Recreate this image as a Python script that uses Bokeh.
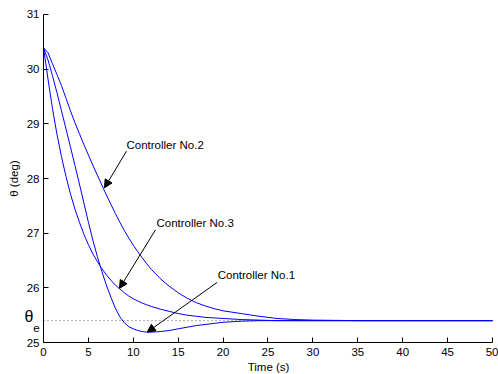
import math
from bokeh.plotting import figure
from bokeh.models import Range1d, Label, Arrow, NormalHead, FixedTicker
from bokeh.embed import file_html
from bokeh.resources import INLINE

# time samples (s)
t = [0, 0.5, 1, 1.5, 2, 2.5, 3, 3.5, 4, 4.5, 5, 5.5, 6, 6.5, 7, 7.5, 8, 8.5, 9, 9.5,
     10, 10.5, 11, 11.5, 12, 13, 14, 15, 16, 17, 18, 19, 20, 22, 24, 26, 28, 30, 35, 40, 45, 50]

# Controller No.1 (undershoot)
ctrl1 = [30.39, 30.17, 29.88, 29.57, 29.24, 28.91, 28.58, 28.24, 27.90, 27.55, 27.20, 26.87,
         26.57, 26.30, 26.05, 25.83, 25.63, 25.47, 25.36, 25.29, 25.25, 25.22, 25.20, 25.19,
         25.19, 25.20, 25.22, 25.25, 25.28, 25.31, 25.33, 25.35, 25.37, 25.39, 25.40, 25.40,
         25.40, 25.40, 25.40, 25.40, 25.40, 25.40]

# Controller No.2 (slowest)
ctrl2 = [30.39, 30.30, 30.10, 29.90, 29.70, 29.47, 29.24, 29.02, 28.82, 28.62, 28.43, 28.24,
         28.06, 27.88, 27.70, 27.53, 27.36, 27.20, 27.05, 26.91, 26.78, 26.66, 26.55, 26.44,
         26.34, 26.17, 26.03, 25.91, 25.81, 25.73, 25.67, 25.62, 25.58, 25.53, 25.48, 25.44,
         25.42, 25.41, 25.40, 25.40, 25.40, 25.40]

# Controller No.3 (fast initial decay)
ctrl3 = [30.39, 29.82, 29.28, 28.81, 28.40, 28.04, 27.72, 27.44, 27.20, 26.98, 26.79, 26.62,
         26.48, 26.35, 26.24, 26.14, 26.05, 25.98, 25.91, 25.85, 25.80, 25.76, 25.72, 25.69,
         25.66, 25.61, 25.57, 25.53, 25.50, 25.48, 25.46, 25.45, 25.44, 25.42, 25.41, 25.40,
         25.40, 25.40, 25.40, 25.40, 25.40, 25.40]

theta_e = 25.4
x_ticks = [0, 5, 10, 15, 20, 25, 30, 35, 40, 45, 50]
y_ticks = [25, 26, 27, 28, 29, 30, 31]

FONT = "Liberation Sans"
FS = "11.5px"

# the frame covers the whole canvas; axes are pinned at x=0 and y=25
p = figure(width=498, height=374, x_range=Range1d(-4.788, 50.668), y_range=Range1d(24.415, 31.256),
           output_backend="svg", toolbar_location=None,
           min_border_left=0, min_border_right=0, min_border_top=0, min_border_bottom=0)
p.outline_line_color = None
p.grid.visible = False
p.background_fill_color = "white"
p.border_fill_color = "white"

p.xaxis.ticker = FixedTicker(ticks=x_ticks)
p.yaxis.ticker = FixedTicker(ticks=y_ticks)
p.xaxis.fixed_location = 25
p.yaxis.fixed_location = 0
p.xaxis.bounds = (0, 50)
p.yaxis.bounds = (25, 31)
for ax in (p.xaxis[0], p.yaxis[0]):
    ax.major_tick_in = 5
    ax.major_tick_out = 0
    ax.minor_tick_line_color = None
    ax.axis_line_color = "black"
    ax.major_tick_line_color = "black"
    ax.major_label_text_font = FONT
    ax.major_label_text_font_size = FS
    ax.major_label_text_color = "black"
p.xaxis.major_label_standoff = 5
p.yaxis.major_label_standoff = 4

# equilibrium dotted line
p.line(x=[0, 50], y=[theta_e, theta_e], line_dash="1 3", line_color="#555555", line_width=1)

for ys in (ctrl1, ctrl2, ctrl3):
    p.line(x=t, y=ys, line_color="#0000ff", line_width=1)

# axis titles
p.add_layout(Label(x=25.06, y=24.561, text="Time (s)", text_font=FONT, text_font_size=FS,
                   text_color="black", text_align="center", text_baseline="middle"))
p.add_layout(Label(x=-3.23, y=28.0, text="θ (deg)", angle=math.pi / 2, text_font=FONT,
                   text_font_size=FS, text_color="black", text_align="center",
                   text_baseline="middle"))

# annotations
notes = [
    ("Controller No.2", 9.24, 28.62, 9.24, 28.50, 6.79, 27.83),
    ("Controller No.3", 12.58, 27.18, 12.47, 27.06, 8.46, 25.99),
    ("Controller No.1", 19.40, 26.23, 19.34, 26.10, 11.55, 25.19),
]
for txt, lx, ly, x0, y0, x1, y1 in notes:
    p.add_layout(Label(x=lx, y=ly, text=txt, text_font=FONT, text_font_size=FS,
                       text_color="black", text_baseline="middle", text_align="left"))
    p.add_layout(Arrow(x_start=x0, y_start=y0, x_end=x1, y_end=y1, line_color="black",
                       line_width=1,
                       end=NormalHead(size=8, fill_color="black", line_color="black")))

# theta_e label
p.add_layout(Label(x=-1.615, y=25.476, text="θ", text_font=FONT, text_font_size="16px",
                   text_color="black", text_align="center", text_baseline="middle"))
p.add_layout(Label(x=-0.78, y=25.274, text="e", text_font=FONT, text_font_size=FS,
                   text_color="black", text_align="center", text_baseline="middle"))

open("out.html", "w").write(file_html(p, INLINE))
